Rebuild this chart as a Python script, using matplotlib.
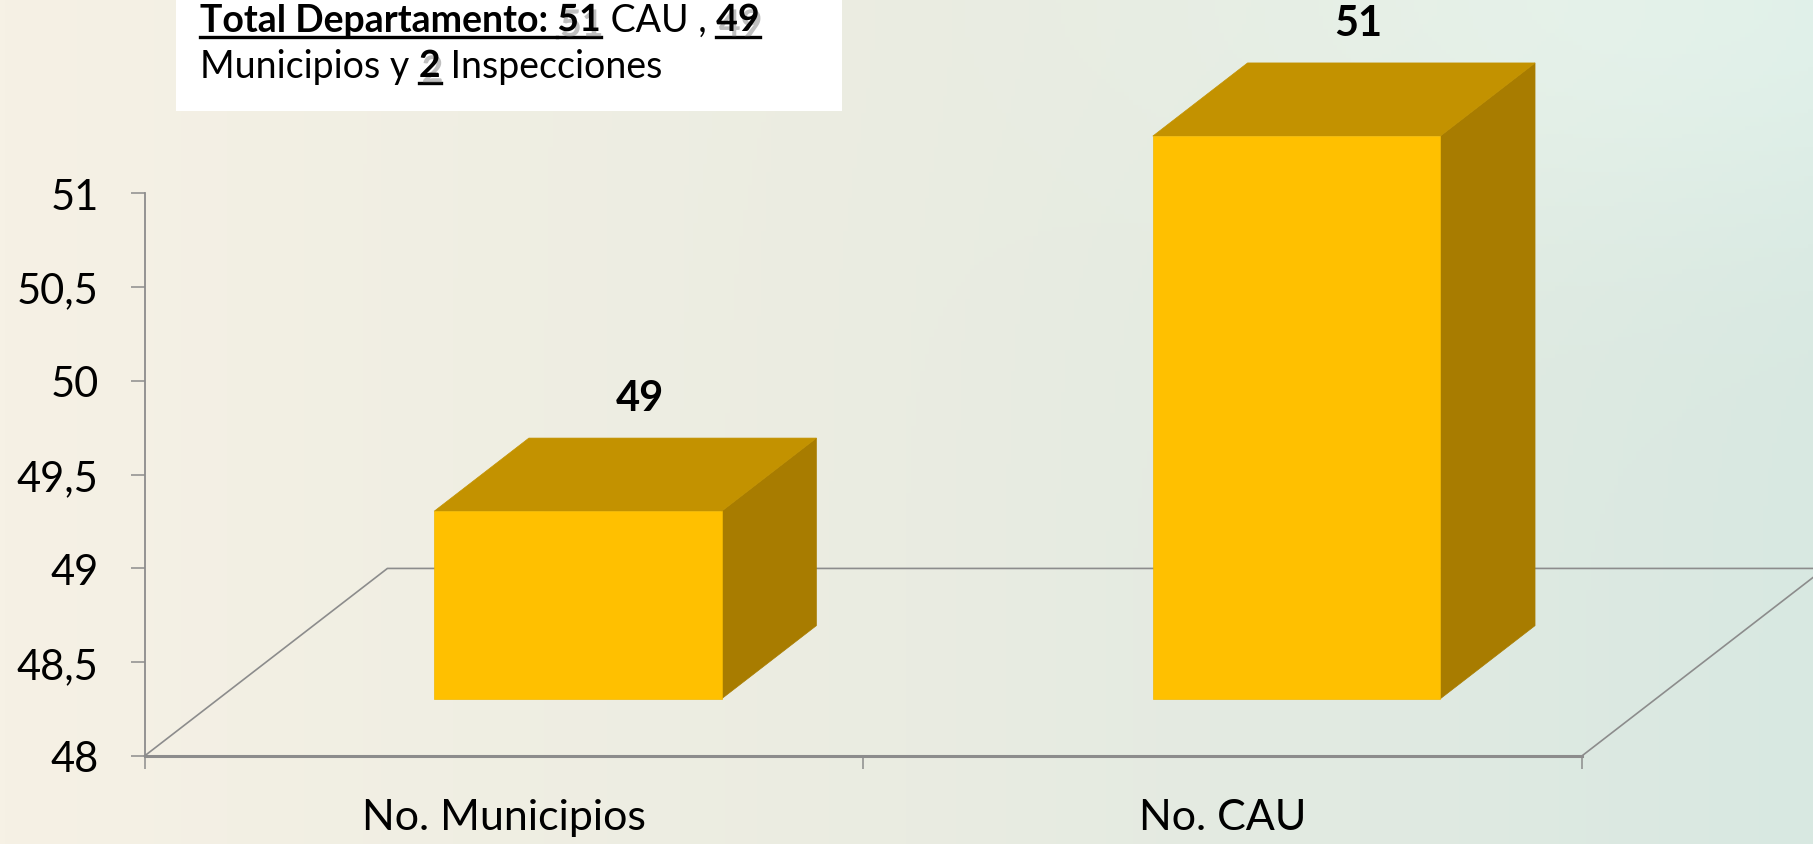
import numpy as np
import matplotlib
matplotlib.use('Agg')
import matplotlib.pyplot as plt
from matplotlib.patches import Polygon, Rectangle
from matplotlib.lines import Line2D
from matplotlib import patheffects as pe

plt.rcParams['font.family'] = ['Lato', 'DejaVu Sans']

# ---------------- data ----------------
categories = ['No. Municipios', 'No. CAU']
values = [49, 51]
y_ticks = [48, 48.5, 49, 49.5, 50, 50.5, 51]
y_tick_labels = ['48', '48,5', '49', '49,5', '50', '50,5', '51']
box_line1 = ['Total Departamento: ', '51', ' CAU , ', '49']
box_line1_bold = [True, True, False, True]
box_line2 = ['Municipios y ', '2', ' Inspecciones']
box_line2_bold = [False, True, False]

# ---------------- figure ----------------
W, H, DPI = 1813, 845, 100
fig = plt.figure(figsize=(W / DPI, H / DPI), dpi=DPI)

# background gradient
bg = fig.add_axes([0, 0, 1, 1], zorder=-10)
nx, ny = 400, 200
xx = np.linspace(0, 1, nx)[None, :]
yy = np.linspace(0, 1, ny)[:, None]
c_left = np.array([246, 241, 229]) / 255
c_mid = np.array([234, 236, 225]) / 255
c_right = np.array([216, 232, 225]) / 255
t1 = np.clip(xx / 0.5, 0, 1)[..., None]
t2 = np.clip((xx - 0.5) / 0.5, 0, 1)[..., None]
img = np.where(xx[..., None] < 0.5, c_left * (1 - t1) + c_mid * t1, c_mid * (1 - t2) + c_right * t2)
img = np.broadcast_to(img, (ny, nx, 3)).copy()
glow = 0.035 * np.exp(-(((xx - 0.95) ** 2) + (yy - 0.0) ** 2) / 0.08)
img = np.clip(img + glow[..., None], 0, 1)
bg.imshow(img, aspect='auto', extent=[0, 1, 0, 1], origin='upper')
bg.set_axis_off()

# main axes (front plane)
x0, x1 = 144.5, 1581.8
y48, y51 = 757.0, 194.3
ax = fig.add_axes([x0 / W, 1 - y48 / H, (x1 - x0) / W, (y48 - y51) / H])
ax.set_xlim(-0.5, 1.5)
ax.set_ylim(48, 51)
ax.patch.set_alpha(0)
for s in ['top', 'right']:
    ax.spines[s].set_visible(False)
grey = '#8C8C8C'
ax.spines['left'].set_color(grey)
ax.spines['left'].set_linewidth(1.3)
ax.spines['bottom'].set_color(grey)
ax.spines['bottom'].set_linewidth(2.2)

ax.set_yticks(y_ticks, y_tick_labels)
ax.tick_params(axis='y', length=10, width=1.1, color=grey, pad=23, labelsize=30)
ax.set_xticks(range(len(categories)), categories)
ax.tick_params(axis='x', which='major', length=0, pad=30, labelsize=31)
ax.set_xticks([-0.5, 0.5, 1.5], minor=True)
ax.tick_params(axis='x', which='minor', length=9, width=1.1, color=grey)

# pseudo-3D depth offsets (data units per full depth)
DX, DY = 0.338, 1.0
base = y_ticks[0]
d0, d1, hw = 0.305, 0.695, 0.2

# floor
ax.plot([-0.5, -0.5 + DX, 1.5 + DX, 1.5], [base, base + DY, base + DY, base],
        color=grey, lw=1.2, clip_on=False, zorder=1)

front_c, top_c, side_c = '#FFC000', '#C39200', '#A87C00'
for i, v in enumerate(values):
    fl, fr = i - hw + d0 * DX, i + hw + d0 * DX
    bl, br = i - hw + d1 * DX, i + hw + d1 * DX
    fb, ft = base + d0 * DY, v + d0 * DY
    bb, bt = base + d1 * DY, v + d1 * DY
    side = Polygon([(fr, ft), (br, bt), (br, bb), (fr, fb)], closed=True,
                   facecolor=side_c, edgecolor=side_c, lw=0.5, clip_on=False, zorder=3)
    top = Polygon([(fl, ft), (fr, ft), (br, bt), (bl, bt)], closed=True,
                  facecolor=top_c, edgecolor=top_c, lw=0.5, clip_on=False, zorder=3)
    front = Polygon([(fl, fb), (fr, fb), (fr, ft), (fl, ft)], closed=True,
                    facecolor=front_c, edgecolor='#F2B800', lw=0.5, clip_on=False, zorder=4)
    for p in (side, top, front):
        ax.add_patch(p)
    ax.annotate(str(v), xy=(i + 0.5 * DX + 0.02, bt), xytext=(0, 29),
                textcoords='offset points', ha='center', va='center',
                fontsize=30, fontweight='bold', color='black', annotation_clip=False)

# ---------------- text box ----------------
fig.add_artist(Rectangle((176 / W, 1 - 112 / H), (842 - 176) / W, 112 / H,
                         transform=fig.transFigure, facecolor='white',
                         edgecolor='none', zorder=5))

renderer = fig.canvas.get_renderer()
BOX_FS = 27


def text_width(s, bold):
    kw = dict(fontsize=BOX_FS, fontweight='bold' if bold else 'normal')
    t = fig.text(0, 0, '|' + s + '|', **kw)
    w1 = t.get_window_extent(renderer).width
    t.remove()
    t = fig.text(0, 0, '||', **kw)
    w2 = t.get_window_extent(renderer).width
    t.remove()
    return w1 - w2


shadow = [pe.withSimplePatchShadow(offset=(2, -4), shadow_rgbFace=(0.45, 0.45, 0.45), alpha=0.45)]


def draw_line(parts, bolds, x_start, baseline):
    x = x_start
    for s, b in zip(parts, bolds):
        w = text_width(s, b)
        kw = dict(fontsize=BOX_FS, fontweight='bold' if b else 'normal',
                  va='baseline', ha='left', color='black', zorder=6)
        if b and s.strip().isdigit():
            kw['path_effects'] = shadow
        fig.text(x / W, 1 - baseline / H, s, **kw)
        if b:
            uy = 1 - (baseline + 6) / H
            fig.add_artist(Line2D([x / W, (x + w) / W], [uy, uy],
                                  transform=fig.transFigure, color='black',
                                  lw=2.4, zorder=6))
        x += w


draw_line(box_line1, box_line1_bold, 200, 32)
draw_line(box_line2, box_line2_bold, 200, 78)

fig.savefig('out.png', dpi=DPI)
